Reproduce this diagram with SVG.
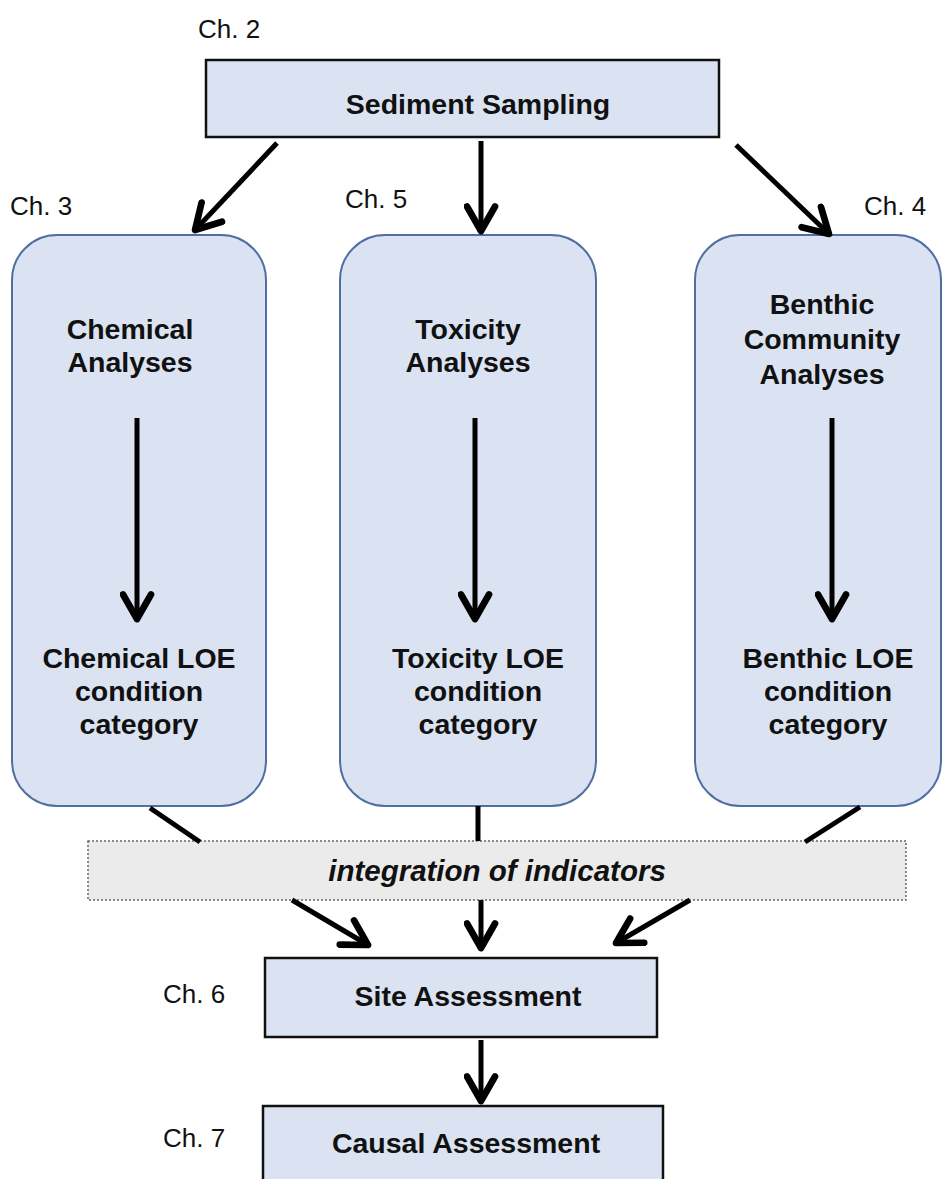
<svg xmlns="http://www.w3.org/2000/svg" width="943" height="1179" viewBox="0 0 943 1179">
  <style>
    .bg { fill: #ffffff; }
    .rect { fill: #dbe3f2; stroke: #111; stroke-width: 2.5; }
    .col { fill: #dbe3f2; stroke: #4f6fa3; stroke-width: 2; }
    .integ { fill: #ebebeb; stroke: #666; stroke-width: 1.5; stroke-dasharray: 2 2; }
    .title { font-family: "Liberation Sans", Arial, sans-serif; font-weight: bold; font-size: 28.5px; fill: #111; text-anchor: middle; }
    .ch { font-family: "Liberation Sans", Arial, sans-serif; font-size: 26px; fill: #111; }
    .it { font-family: "Liberation Sans", Arial, sans-serif; font-style: italic; font-weight: bold; font-size: 29.5px; fill: #111; text-anchor: middle; }
    .conn { stroke: #000; stroke-width: 5; fill: none; }
  </style>
  <defs>
    <marker id="vhead" viewBox="0 0 20 20" refX="17" refY="10" markerWidth="7" markerHeight="7" markerUnits="strokeWidth" orient="auto">
      <path d="M3,2 L17,10 L3,18" fill="none" stroke="#000" stroke-width="3.8" stroke-linecap="round" stroke-linejoin="round"/>
    </marker>
  </defs>
  <rect class="bg" x="0" y="0" width="943" height="1179"/>

  <!-- chapter labels -->
  <g id="chapter-labels">
    <text class="ch" x="198" y="38">Ch. 2</text>
    <text class="ch" x="10" y="215">Ch. 3</text>
    <text class="ch" x="345" y="208">Ch. 5</text>
    <text class="ch" x="864" y="215">Ch. 4</text>
    <text class="ch" x="163" y="1003">Ch. 6</text>
    <text class="ch" x="163" y="1147">Ch. 7</text>
  </g>

  <g id="sediment-sampling">
    <rect class="rect" x="206" y="60" width="513" height="77"/>
    <text class="title" x="478" y="114">Sediment Sampling</text>
  </g>

  <g id="chemical">
    <rect class="col" x="12" y="235" width="254" height="571" rx="45"/>
    <text class="title" x="130" y="339">Chemical</text>
    <text class="title" x="130" y="372">Analyses</text>
    <text class="title" x="139" y="668">Chemical LOE</text>
    <text class="title" x="139" y="701">condition</text>
    <text class="title" x="139" y="734">category</text>
  </g>

  <g id="toxicity">
    <rect class="col" x="340" y="235" width="256" height="571" rx="45"/>
    <text class="title" x="468" y="339">Toxicity</text>
    <text class="title" x="468" y="372">Analyses</text>
    <text class="title" x="478" y="668">Toxicity LOE</text>
    <text class="title" x="478" y="701">condition</text>
    <text class="title" x="478" y="734">category</text>
  </g>

  <g id="benthic">
    <rect class="col" x="695" y="235" width="246" height="571" rx="45"/>
    <text class="title" x="822" y="314">Benthic</text>
    <text class="title" x="822" y="349">Community</text>
    <text class="title" x="822" y="384">Analyses</text>
    <text class="title" x="828" y="668">Benthic LOE</text>
    <text class="title" x="828" y="701">condition</text>
    <text class="title" x="828" y="734">category</text>
  </g>

  <g id="integration">
    <rect class="integ" x="88" y="841" width="818" height="59"/>
    <text class="it" x="497" y="881">integration of indicators</text>
  </g>

  <g id="site-assessment">
    <rect class="rect" x="265" y="958" width="392" height="79"/>
    <text class="title" x="468" y="1006">Site Assessment</text>
  </g>

  <g id="causal-assessment">
    <rect class="rect" x="263" y="1106" width="400" height="80"/>
    <text class="title" x="466" y="1153">Causal Assessment</text>
  </g>

  <g id="connectors">
    <line class="conn" x1="277" y1="143" x2="195" y2="230" marker-end="url(#vhead)"/>
    <line class="conn" x1="481" y1="141" x2="481" y2="231" marker-end="url(#vhead)"/>
    <line class="conn" x1="736" y1="145" x2="829" y2="234" marker-end="url(#vhead)"/>

    <line class="conn" x1="137" y1="418" x2="137" y2="619" marker-end="url(#vhead)"/>
    <line class="conn" x1="475" y1="418" x2="475" y2="619" marker-end="url(#vhead)"/>
    <line class="conn" x1="832" y1="418" x2="832" y2="619" marker-end="url(#vhead)"/>

    <line class="conn" x1="150" y1="808" x2="200" y2="842"/>
    <line class="conn" x1="478" y1="806" x2="478" y2="841"/>
    <line class="conn" x1="860" y1="807" x2="805" y2="842"/>

    <line class="conn" x1="292" y1="900" x2="368" y2="945" marker-end="url(#vhead)"/>
    <line class="conn" x1="481" y1="900" x2="481" y2="948" marker-end="url(#vhead)"/>
    <line class="conn" x1="690" y1="900" x2="616" y2="943" marker-end="url(#vhead)"/>

    <line class="conn" x1="481" y1="1040" x2="481" y2="1101" marker-end="url(#vhead)"/>
  </g>
</svg>
